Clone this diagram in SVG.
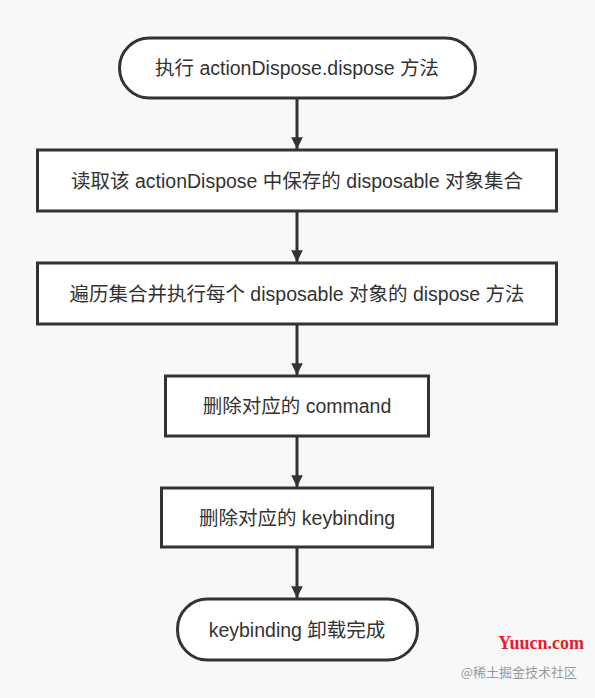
<svg xmlns="http://www.w3.org/2000/svg" width="595" height="698" viewBox="0 0 595 698">
<defs>
<style>
.box{fill:#ffffff;stroke:#333333;stroke-width:3}
.t{font-family:"Liberation Sans","Noto Sans CJK SC",sans-serif;font-size:19.5px;fill:#333333;text-anchor:middle;dominant-baseline:central}
.c{stroke:#333333;stroke-width:3;fill:none}
</style>
<marker id="arr" viewBox="0 0 16 22" refX="16" refY="8" markerWidth="22" markerHeight="16" orient="auto" markerUnits="userSpaceOnUse">
<path d="M0,0 L16,8 L0,16 Z" fill="#333333"/>
</marker>
</defs>
<rect width="595" height="698" fill="#f8f8f8"/>
<g id="connectors">
<line class="c" x1="297" y1="98" x2="297" y2="149" marker-end="url(#arr)"/>
<line class="c" x1="297" y1="211" x2="297" y2="262" marker-end="url(#arr)"/>
<line class="c" x1="297" y1="324" x2="297" y2="375" marker-end="url(#arr)"/>
<line class="c" x1="297" y1="436" x2="297" y2="487" marker-end="url(#arr)"/>
<line class="c" x1="297" y1="547" x2="297" y2="598" marker-end="url(#arr)"/>
</g>
<g id="n1">
<rect class="box" x="119.5" y="38" width="356" height="60" rx="30" ry="30"/>
<text class="t" x="297" y="68">执行 actionDispose.dispose 方法</text>
</g>
<g id="n2">
<rect class="box" x="37.5" y="150" width="519" height="61"/>
<text class="t" x="297" y="181">读取该 actionDispose 中保存的 disposable 对象集合</text>
</g>
<g id="n3">
<rect class="box" x="37.5" y="263" width="519" height="61"/>
<text class="t" x="297" y="294">遍历集合并执行每个 disposable 对象的 dispose 方法</text>
</g>
<g id="n4">
<rect class="box" x="165.5" y="376" width="263" height="60"/>
<text class="t" x="297" y="406">删除对应的 command</text>
</g>
<g id="n5">
<rect class="box" x="161.5" y="488" width="271" height="59"/>
<text class="t" x="297" y="518">删除对应的 keybinding</text>
</g>
<g id="n6">
<rect class="box" x="177.5" y="599" width="240" height="61" rx="30" ry="30"/>
<text class="t" x="297" y="630">keybinding 卸载完成</text>
</g>
<text x="584" y="649" font-family="Liberation Serif,serif" font-size="18" font-weight="bold" fill="#e0202a" text-anchor="end">Yuucn.com</text>
<text x="577" y="677" font-family="Noto Sans CJK SC,sans-serif" font-size="13" fill="#999999" text-anchor="end">@稀土掘金技术社区</text>
</svg>
